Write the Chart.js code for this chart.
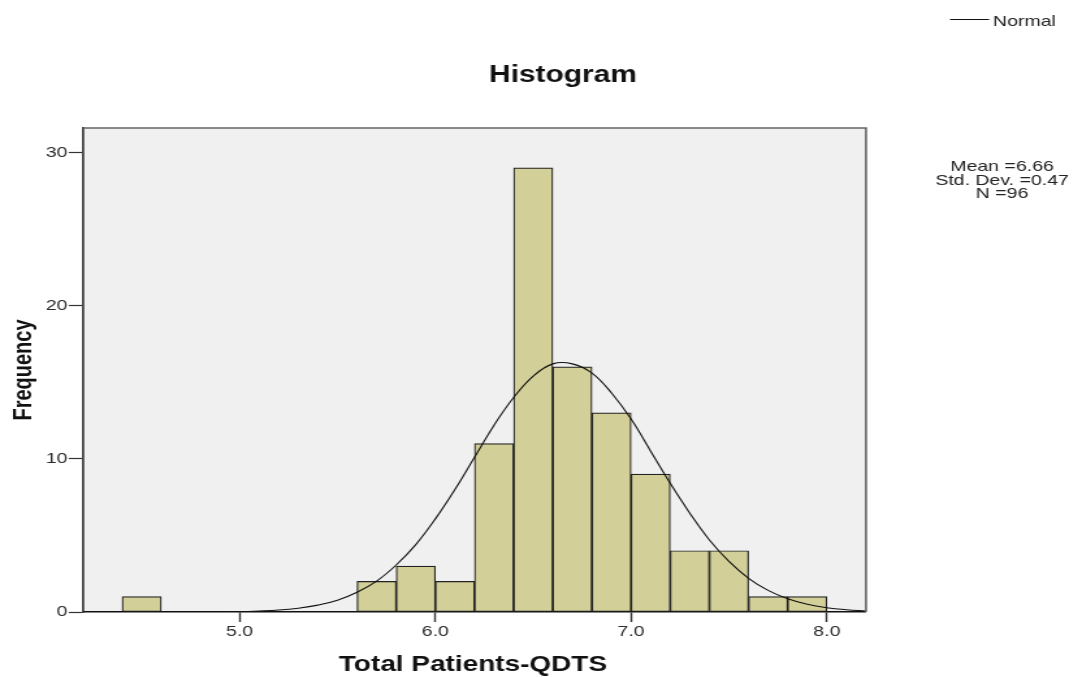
<!DOCTYPE html>
<html>
<head>
<meta charset="utf-8">
<script src="https://cdn.jsdelivr.net/npm/chart.js@4/dist/chart.umd.min.js"></script>
<style>
  html, body { margin: 0; padding: 0; background: #fff; overflow: hidden; }
  /* the reference looks horizontally stretched, so draw narrow and stretch */
  #wrap { width: 832px; height: 677px; transform: scaleX(1.30048); transform-origin: 0 0; }
</style>
</head>
<body>
<div id="wrap"><canvas id="histChart"></canvas></div>
<script>
// histogram bins (lower edge of each 0.2 wide bin) and their counts
const binStarts = [4.4, 5.6, 5.8, 6.0, 6.2, 6.4, 6.6, 6.8, 7.0, 7.2, 7.4, 7.6, 7.8];
const counts = [1, 2, 3, 2, 11, 29, 16, 13, 9, 4, 4, 1, 1];
const binWidth = 0.2;

// normal curve
const curveX = [4.2, 4.3, 4.4, 4.5, 4.6, 4.7, 4.8, 4.9, 5.0, 5.1, 5.2, 5.3, 5.4, 5.5, 5.6, 5.7, 5.8, 5.9, 6.0, 6.1,
  6.2, 6.3, 6.4, 6.5, 6.6, 6.7, 6.8, 6.9, 7.0, 7.1, 7.2, 7.3, 7.4, 7.5, 7.6, 7.7, 7.8, 7.9, 8.0, 8.1, 8.2];
const curveY = [0, 0, 0, 0, 0, 0, 0.01, 0.02, 0.03, 0.07, 0.13, 0.25, 0.45, 0.77, 1.29, 2.02, 3.07, 4.4, 6.08, 8.0,
  10.1, 12.2, 14.0, 15.4, 16.2, 16.2, 15.6, 14.3, 12.6, 10.5, 8.4, 6.45, 4.7, 3.3, 2.2, 1.41, 0.86, 0.5, 0.28, 0.15, 0.07];

const xTicks = [5.0, 6.0, 7.0, 8.0];
const yTicks = [0, 10, 20, 30];

const stats = ['Mean =6.66', 'Std. Dev. =0.47', 'N =96'];

Chart.defaults.font.family = '"Liberation Sans", Arial, sans-serif';
Chart.defaults.color = '#333';

// plot background, frame and the free texts
const decor = {
  id: 'decor',
  beforeDraw(chart) {
    const { ctx, chartArea: a } = chart;
    ctx.save();
    ctx.fillStyle = '#f0f0f0';
    ctx.fillRect(a.left, a.top, a.right - a.left, a.bottom - a.top);
    ctx.restore();
  },
  afterDraw(chart) {
    const { ctx, chartArea: a } = chart;
    ctx.save();
    ctx.strokeStyle = '#666';
    ctx.lineWidth = 1.6;
    ctx.beginPath();
    ctx.moveTo(a.left, a.top);
    ctx.lineTo(a.right, a.top);
    ctx.lineTo(a.right, a.bottom);
    ctx.stroke();

    ctx.fillStyle = '#111';
    ctx.textBaseline = 'alphabetic';
    ctx.textAlign = 'center';
    ctx.font = 'bold 23px "Liberation Sans", Arial, sans-serif';
    ctx.fillText('Histogram', 432.9, 82);
    ctx.font = 'bold 21.5px "Liberation Sans", Arial, sans-serif';
    ctx.fillText('Total Patients-QDTS', 363.7, 671);

    ctx.save();
    ctx.translate(23.5, 370);
    ctx.rotate(-Math.PI / 2);
    ctx.font = 'bold 20px "Liberation Sans", Arial, sans-serif';
    ctx.fillText('Frequency', 0, 0);
    ctx.restore();

    // legend
    ctx.strokeStyle = '#111';
    ctx.lineWidth = 1;
    ctx.beginPath();
    ctx.moveTo(730.5, 19.5);
    ctx.lineTo(760.5, 19.5);
    ctx.stroke();
    ctx.font = '15px "Liberation Sans", Arial, sans-serif';
    ctx.textAlign = 'left';
    ctx.fillStyle = '#222';
    ctx.fillText('Normal', 763.6, 26);

    ctx.textAlign = 'center';
    [171, 184.5, 198].forEach((y, i) => ctx.fillText(stats[i], 770.5, y));
    ctx.restore();
  }
};

const context = document.getElementById('histChart').getContext('2d');
new Chart(context, {
  type: 'bar',
  data: {
    datasets: [
      {
        type: 'line',
        label: 'Normal',
        data: curveX.map((x, i) => ({ x: x, y: curveY[i] })),
        borderColor: '#111',
        borderWidth: 1.1,
        pointRadius: 0,
        tension: 0.4,
        fill: false,
        order: 0
      },
      {
        type: 'bar',
        label: 'Frequency',
        data: binStarts.map((s, i) => ({ x: s + binWidth / 2, y: counts[i] })),
        backgroundColor: '#d3cf98',
        borderColor: '#222',
        borderWidth: 1.2,
        borderSkipped: false,
        barPercentage: 1,
        categoryPercentage: 1,
        grouped: false,
        order: 1
      }
    ]
  },
  plugins: [decor],
  options: {
    responsive: true,
    maintainAspectRatio: false,
    animation: false,
    layout: { padding: { left: 0, top: 128, right: 166.1, bottom: 0 } },
    plugins: { legend: { display: false }, tooltip: { enabled: false } },
    scales: {
      x: {
        type: 'linear',
        min: 4.2,
        max: 8.2,
        offset: false,
        afterBuildTicks: s => { s.ticks = xTicks.map(v => ({ value: v })); },
        afterFit: s => { s.height = 65; },
        grid: { offset: false, drawOnChartArea: false, tickLength: 10, tickWidth: 1.4, tickColor: '#333' },
        border: { color: '#111', width: 1.5 },
        ticks: {
          font: { size: 15 },
          color: '#2a2a2a',
          padding: 1,
          maxRotation: 0,
          callback: v => Number(v).toFixed(1)
        }
      },
      y: {
        min: 0,
        max: 31.6,
        afterBuildTicks: s => { s.ticks = yTicks.map(v => ({ value: v })); },
        afterFit: s => { s.width = 63.82; },
        grid: { drawOnChartArea: false, tickLength: 11, tickWidth: 1.2, tickColor: '#333' },
        border: { color: '#444', width: 1.8 },
        ticks: { font: { size: 15 }, color: '#2a2a2a', padding: 1 }
      }
    }
  }
});
</script>
</body>
</html>
